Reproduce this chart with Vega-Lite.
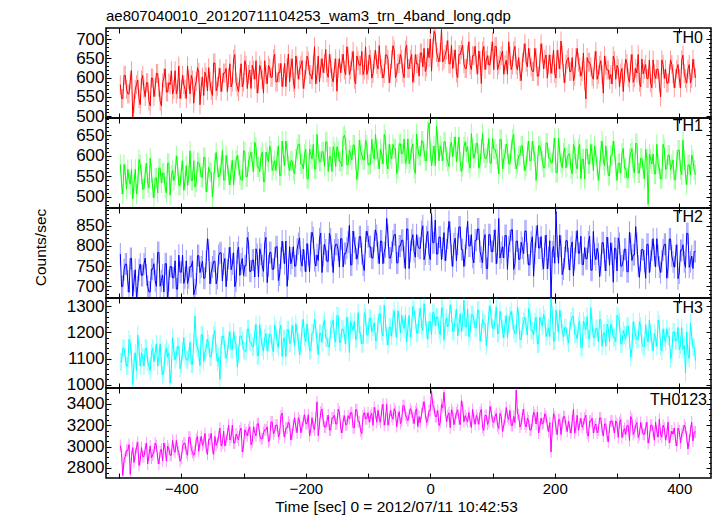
{
"$schema": "https://vega.github.io/schema/vega-lite/v6.json",
"padding": {"left": 32, "top": 9, "right": 5, "bottom": 1},
"title": {"text": "ae807040010_20120711104253_wam3_trn_4band_long.qdp", "anchor": "start", "frame": "group", "offset": -2.5, "fontSize": 15, "fontWeight": "normal", "font": "Liberation Sans", "color": "#000"},
"config": {
  "font": "Liberation Sans",
  "view": {"stroke": "#000", "strokeWidth": 1.5},
  "axis": {"labelFont": "Liberation Sans", "labelFontSize": 17, "labelColor": "#000", "tickColor": "#000", "tickWidth": 1, "domain": false, "grid": false, "titleFont": "Liberation Sans", "titleFontWeight": "normal", "titleFontSize": 15.5, "titleColor": "#000", "labelOverlap": false, "labelFlush": false}
},
"data": {"values": [
{"t":-498,"a":582,"b":579,"c":780,"d":1088,"e":3010},{"t":-494,"a":546,"b":507,"c":700,"d":1139,"e":2730},{"t":-490,"a":606,"b":555,"c":755,"d":1105,"e":2907},{"t":-486,"a":558,"b":567,"c":713,"d":1071,"e":2963},{"t":-482,"a":594,"b":531,"c":769,"d":1156,"e":2740},{"t":-478,"a":498,"b":495,"c":675,"d":1000,"e":2991},{"t":-474,"a":570,"b":567,"c":741,"d":1122,"e":2935},{"t":-470,"a":594,"b":531,"c":699,"d":1190,"e":3040},{"t":-466,"a":530,"b":579,"c":755,"d":1071,"e":2879},{"t":-462,"a":606,"b":519,"c":727,"d":1105,"e":2907},
{"t":-458,"a":551,"b":558,"c":770,"d":1139,"e":2978},{"t":-454,"a":587,"b":534,"c":700,"d":1088,"e":2838},{"t":-450,"a":527,"b":594,"c":686,"d":1054,"e":3006},{"t":-446,"a":599,"b":522,"c":742,"d":1139,"e":2922},{"t":-442,"a":575,"b":546,"c":714,"d":1122,"e":3034},{"t":-438,"a":611,"b":510,"c":784,"d":1071,"e":2894},{"t":-434,"a":539,"b":570,"c":700,"d":1156,"e":2950},{"t":-430,"a":587,"b":558,"c":728,"d":1037,"e":2866},{"t":-426,"a":623,"b":522,"c":756,"d":1122,"e":2978},{"t":-422,"a":563,"b":582,"c":658,"d":1105,"e":3006},
{"t":-418,"a":582,"b":504,"c":749,"d":1005,"e":2919},{"t":-414,"a":558,"b":564,"c":721,"d":1180,"e":3059},{"t":-410,"a":618,"b":552,"c":763,"d":1095,"e":2947},{"t":-406,"a":570,"b":576,"c":693,"d":1146,"e":2975},{"t":-402,"a":546,"b":528,"c":735,"d":1061,"e":2863},{"t":-398,"a":606,"b":588,"c":777,"d":1129,"e":3003},{"t":-394,"a":570,"b":540,"c":721,"d":1112,"e":3031},{"t":-390,"a":630,"b":528,"c":707,"d":1095,"e":2919},{"t":-386,"a":558,"b":612,"c":749,"d":1163,"e":3087},{"t":-382,"a":594,"b":540,"c":763,"d":1078,"e":2947},
{"t":-378,"a":578,"b":524,"c":692,"d":1262,"e":2956},{"t":-374,"a":626,"b":584,"c":776,"d":1140,"e":3096},{"t":-370,"a":530,"b":572,"c":734,"d":1072,"e":3040},{"t":-366,"a":602,"b":548,"c":762,"d":1191,"e":3012},{"t":-362,"a":614,"b":596,"c":720,"d":1123,"e":3124},{"t":-358,"a":566,"b":536,"c":818,"d":1174,"e":2928},{"t":-354,"a":590,"b":560,"c":706,"d":1106,"e":3068},{"t":-350,"a":554,"b":500,"c":748,"d":1157,"e":2984},{"t":-346,"a":638,"b":584,"c":762,"d":1208,"e":3096},{"t":-342,"a":578,"b":572,"c":720,"d":1089,"e":3040},
{"t":-338,"a":624,"b":553,"c":783,"d":1020,"e":3174},{"t":-334,"a":588,"b":613,"c":713,"d":1186,"e":3034},{"t":-330,"a":612,"b":541,"c":769,"d":1135,"e":3006},{"t":-326,"a":564,"b":577,"c":741,"d":1118,"e":3118},{"t":-322,"a":636,"b":529,"c":797,"d":1203,"e":3062},{"t":-318,"a":588,"b":589,"c":755,"d":1135,"e":3202},{"t":-314,"a":660,"b":565,"c":699,"d":1169,"e":3034},{"t":-310,"a":576,"b":601,"c":783,"d":1067,"e":3090},{"t":-306,"a":600,"b":553,"c":727,"d":1186,"e":3146},{"t":-302,"a":576,"b":541,"c":769,"d":1169,"e":2950},
{"t":-298,"a":644,"b":609,"c":751,"d":1128,"e":3158},{"t":-294,"a":572,"b":549,"c":821,"d":1213,"e":3102},{"t":-290,"a":620,"b":597,"c":737,"d":1162,"e":3186},{"t":-286,"a":632,"b":585,"c":765,"d":1145,"e":3046},{"t":-282,"a":596,"b":633,"c":723,"d":1196,"e":3130},{"t":-278,"a":560,"b":573,"c":779,"d":1111,"e":3214},{"t":-274,"a":632,"b":561,"c":793,"d":1230,"e":3102},{"t":-270,"a":596,"b":609,"c":751,"d":1145,"e":3074},{"t":-266,"a":644,"b":537,"c":807,"d":1179,"e":3158},{"t":-262,"a":584,"b":597,"c":709,"d":1128,"e":3186},
{"t":-258,"a":625,"b":624,"c":784,"d":1193,"e":3063},{"t":-254,"a":601,"b":564,"c":742,"d":1142,"e":3231},{"t":-250,"a":661,"b":588,"c":770,"d":1227,"e":3147},{"t":-246,"a":589,"b":600,"c":798,"d":1159,"e":3203},{"t":-242,"a":613,"b":552,"c":728,"d":1210,"e":3119},{"t":-238,"a":577,"b":636,"c":812,"d":1108,"e":3315},{"t":-234,"a":637,"b":576,"c":756,"d":1176,"e":3091},{"t":-230,"a":625,"b":612,"c":700,"d":1210,"e":3175},{"t":-226,"a":589,"b":564,"c":798,"d":1159,"e":3203},{"t":-222,"a":649,"b":588,"c":770,"d":1227,"e":3119},
{"t":-218,"a":572,"b":556,"c":750,"d":1148,"e":3271},{"t":-214,"a":632,"b":616,"c":792,"d":1199,"e":3131},{"t":-210,"a":620,"b":628,"c":820,"d":1114,"e":3243},{"t":-206,"a":644,"b":580,"c":750,"d":1216,"e":3187},{"t":-202,"a":596,"b":604,"c":764,"d":1182,"e":3299},{"t":-198,"a":656,"b":544,"c":806,"d":1233,"e":3215},{"t":-194,"a":608,"b":616,"c":736,"d":1131,"e":3103},{"t":-190,"a":596,"b":592,"c":834,"d":1199,"e":3271},{"t":-186,"a":680,"b":568,"c":764,"d":1250,"e":3159},{"t":-182,"a":608,"b":652,"c":778,"d":1165,"e":3420},
{"t":-178,"a":589,"b":586,"c":818,"d":1196,"e":3212},{"t":-174,"a":649,"b":610,"c":734,"d":1162,"e":3352},{"t":-170,"a":637,"b":574,"c":804,"d":1247,"e":3184},{"t":-166,"a":613,"b":634,"c":762,"d":1179,"e":3240},{"t":-162,"a":661,"b":598,"c":832,"d":1145,"e":3156},{"t":-158,"a":601,"b":562,"c":776,"d":1230,"e":3268},{"t":-154,"a":625,"b":610,"c":790,"d":1179,"e":3296},{"t":-150,"a":565,"b":622,"c":804,"d":1264,"e":3212},{"t":-146,"a":649,"b":586,"c":748,"d":1162,"e":3324},{"t":-142,"a":637,"b":574,"c":818,"d":1213,"e":3128},
{"t":-138,"a":620,"b":650,"c":781,"d":1191,"e":3290},{"t":-134,"a":680,"b":578,"c":795,"d":1259,"e":3206},{"t":-130,"a":608,"b":614,"c":851,"d":1123,"e":3262},{"t":-126,"a":644,"b":590,"c":753,"d":1225,"e":3318},{"t":-122,"a":596,"b":626,"c":809,"d":1242,"e":3178},{"t":-118,"a":656,"b":542,"c":767,"d":1174,"e":3346},{"t":-114,"a":632,"b":638,"c":823,"d":1208,"e":3234},{"t":-110,"a":668,"b":602,"c":781,"d":1157,"e":3122},{"t":-106,"a":620,"b":590,"c":739,"d":1276,"e":3318},{"t":-102,"a":608,"b":626,"c":837,"d":1191,"e":3262},
{"t":-98,"a":659,"b":580,"c":798,"d":1254,"e":3229},{"t":-94,"a":599,"b":640,"c":770,"d":1203,"e":3313},{"t":-90,"a":647,"b":592,"c":812,"d":1237,"e":3369},{"t":-86,"a":635,"b":616,"c":826,"d":1169,"e":3229},{"t":-82,"a":683,"b":568,"c":756,"d":1271,"e":3257},{"t":-78,"a":623,"b":604,"c":812,"d":1203,"e":3341},{"t":-74,"a":611,"b":652,"c":784,"d":1305,"e":3201},{"t":-70,"a":659,"b":580,"c":868,"d":1186,"e":3397},{"t":-66,"a":587,"b":628,"c":770,"d":1220,"e":3257},{"t":-62,"a":647,"b":592,"c":784,"d":1186,"e":3285},
{"t":-58,"a":672,"b":617,"c":828,"d":1283,"e":3356},{"t":-54,"a":612,"b":557,"c":758,"d":1181,"e":3188},{"t":-50,"a":636,"b":629,"c":800,"d":1249,"e":3328},{"t":-46,"a":648,"b":605,"c":814,"d":1266,"e":3244},{"t":-42,"a":600,"b":641,"c":772,"d":1215,"e":3384},{"t":-38,"a":684,"b":593,"c":842,"d":1164,"e":3272},{"t":-34,"a":624,"b":581,"c":744,"d":1266,"e":3300},{"t":-30,"a":660,"b":617,"c":814,"d":1215,"e":3328},{"t":-26,"a":612,"b":569,"c":786,"d":1283,"e":3216},{"t":-22,"a":636,"b":653,"c":828,"d":1198,"e":3356},
{"t":-18,"a":604,"b":600,"c":794,"d":1259,"e":3282},{"t":-14,"a":664,"b":636,"c":836,"d":1225,"e":3310},{"t":-10,"a":676,"b":612,"c":766,"d":1310,"e":3422},{"t":-6,"a":628,"b":588,"c":822,"d":1208,"e":3226},{"t":-2,"a":652,"b":680,"c":780,"d":1242,"e":3338},{"t":2,"a":617,"b":576,"c":880,"d":1191,"e":3520},{"t":6,"a":720,"b":624,"c":808,"d":1276,"e":3366},{"t":10,"a":665,"b":672,"c":780,"d":1259,"e":3282},{"t":14,"a":641,"b":588,"c":822,"d":1208,"e":3198},{"t":18,"a":725,"b":612,"c":766,"d":1293,"e":3394},
{"t":22,"a":648,"b":634,"c":833,"d":1170,"e":3510},{"t":26,"a":672,"b":598,"c":791,"d":1255,"e":3234},{"t":30,"a":636,"b":574,"c":861,"d":1238,"e":3318},{"t":34,"a":684,"b":634,"c":777,"d":1272,"e":3346},{"t":38,"a":648,"b":622,"c":805,"d":1204,"e":3206},{"t":42,"a":612,"b":586,"c":763,"d":1289,"e":3318},{"t":46,"a":660,"b":646,"c":847,"d":1221,"e":3262},{"t":50,"a":672,"b":562,"c":791,"d":1204,"e":3430},{"t":54,"a":636,"b":622,"c":749,"d":1323,"e":3234},{"t":58,"a":624,"b":610,"c":819,"d":1221,"e":3262},
{"t":62,"a":693,"b":582,"c":800,"d":1183,"e":3321},{"t":66,"a":621,"b":654,"c":828,"d":1268,"e":3181},{"t":70,"a":657,"b":594,"c":758,"d":1251,"e":3265},{"t":74,"a":633,"b":630,"c":814,"d":1217,"e":3293},{"t":78,"a":669,"b":570,"c":842,"d":1285,"e":3209},{"t":82,"a":585,"b":618,"c":772,"d":1200,"e":3349},{"t":86,"a":681,"b":606,"c":814,"d":1234,"e":3153},{"t":90,"a":645,"b":594,"c":744,"d":1149,"e":3293},{"t":94,"a":633,"b":642,"c":828,"d":1268,"e":3237},{"t":98,"a":669,"b":582,"c":786,"d":1251,"e":3321},
{"t":102,"a":621,"b":616,"c":812,"d":1213,"e":3227},{"t":106,"a":681,"b":604,"c":756,"d":1298,"e":3311},{"t":110,"a":633,"b":556,"c":868,"d":1196,"e":3171},{"t":114,"a":657,"b":640,"c":784,"d":1247,"e":3283},{"t":118,"a":609,"b":592,"c":770,"d":1179,"e":3199},{"t":122,"a":645,"b":628,"c":826,"d":1264,"e":3367},{"t":126,"a":693,"b":580,"c":798,"d":1230,"e":3255},{"t":130,"a":621,"b":616,"c":840,"d":1281,"e":3199},{"t":134,"a":669,"b":652,"c":742,"d":1213,"e":3283},{"t":138,"a":633,"b":568,"c":812,"d":1196,"e":3530},
{"t":142,"a":652,"b":600,"c":767,"d":1258,"e":3296},{"t":146,"a":592,"b":624,"c":809,"d":1173,"e":3212},{"t":150,"a":664,"b":588,"c":781,"d":1241,"e":3352},{"t":154,"a":640,"b":576,"c":837,"d":1224,"e":3184},{"t":158,"a":676,"b":636,"c":753,"d":1292,"e":3240},{"t":162,"a":628,"b":588,"c":809,"d":1207,"e":3156},{"t":166,"a":616,"b":612,"c":725,"d":1190,"e":3324},{"t":170,"a":652,"b":540,"c":823,"d":1258,"e":3212},{"t":174,"a":604,"b":624,"c":795,"d":1156,"e":3128},{"t":178,"a":688,"b":612,"c":823,"d":1241,"e":3268},
{"t":182,"a":623,"b":571,"c":743,"d":1269,"e":3225},{"t":186,"a":659,"b":631,"c":827,"d":1184,"e":3281},{"t":190,"a":635,"b":595,"c":771,"d":1218,"e":3141},{"t":194,"a":611,"b":583,"c":665,"d":1330,"e":2950},{"t":198,"a":671,"b":619,"c":799,"d":1167,"e":3309},{"t":202,"a":599,"b":559,"c":885,"d":1286,"e":3169},{"t":206,"a":647,"b":643,"c":757,"d":1201,"e":3253},{"t":210,"a":695,"b":583,"c":799,"d":1252,"e":3113},{"t":214,"a":611,"b":607,"c":743,"d":1184,"e":3281},{"t":218,"a":635,"b":571,"c":813,"d":1218,"e":3197},
{"t":222,"a":652,"b":604,"c":768,"d":1159,"e":3238},{"t":226,"a":616,"b":568,"c":796,"d":1244,"e":3126},{"t":230,"a":592,"b":628,"c":726,"d":1261,"e":3350},{"t":234,"a":652,"b":580,"c":810,"d":1193,"e":3182},{"t":238,"a":640,"b":616,"c":782,"d":1227,"e":3154},{"t":242,"a":604,"b":544,"c":824,"d":1142,"e":3266},{"t":246,"a":664,"b":592,"c":754,"d":1244,"e":3210},{"t":250,"a":545,"b":616,"c":768,"d":1210,"e":3294},{"t":254,"a":640,"b":580,"c":810,"d":1176,"e":3098},{"t":258,"a":628,"b":628,"c":740,"d":1295,"e":3238},
{"t":262,"a":596,"b":564,"c":836,"d":1181,"e":3129},{"t":266,"a":668,"b":600,"c":766,"d":1215,"e":3213},{"t":270,"a":608,"b":540,"c":780,"d":1164,"e":3157},{"t":274,"a":644,"b":612,"c":752,"d":1249,"e":3269},{"t":278,"a":560,"b":588,"c":808,"d":1198,"e":3101},{"t":282,"a":632,"b":624,"c":738,"d":1147,"e":3213},{"t":286,"a":620,"b":552,"c":794,"d":1215,"e":3045},{"t":290,"a":608,"b":600,"c":808,"d":1232,"e":3241},{"t":294,"a":656,"b":636,"c":710,"d":1181,"e":3185},{"t":298,"a":596,"b":576,"c":794,"d":1164,"e":3241},
{"t":302,"a":624,"b":582,"c":820,"d":1258,"e":3086},{"t":306,"a":612,"b":558,"c":750,"d":1156,"e":3254},{"t":310,"a":564,"b":618,"c":764,"d":1207,"e":3142},{"t":314,"a":648,"b":570,"c":792,"d":1173,"e":3114},{"t":318,"a":600,"b":546,"c":736,"d":1224,"e":3198},{"t":322,"a":636,"b":606,"c":806,"d":1105,"e":3282},{"t":326,"a":588,"b":570,"c":778,"d":1241,"e":3114},{"t":330,"a":624,"b":630,"c":848,"d":1190,"e":3198},{"t":334,"a":660,"b":558,"c":750,"d":1173,"e":3086},{"t":338,"a":576,"b":594,"c":764,"d":1224,"e":3226},
{"t":342,"a":610,"b":568,"c":790,"d":1146,"e":3117},{"t":346,"a":634,"b":616,"c":720,"d":1231,"e":3173},{"t":350,"a":598,"b":482,"c":804,"d":1163,"e":3033},{"t":354,"a":586,"b":592,"c":762,"d":1197,"e":3201},{"t":358,"a":646,"b":604,"c":818,"d":1129,"e":3145},{"t":362,"a":598,"b":556,"c":748,"d":1180,"e":3229},{"t":366,"a":622,"b":580,"c":776,"d":1248,"e":3089},{"t":370,"a":550,"b":544,"c":734,"d":1146,"e":3117},{"t":374,"a":634,"b":628,"c":790,"d":1214,"e":3201},{"t":378,"a":622,"b":568,"c":804,"d":1163,"e":3061},
{"t":382,"a":586,"b":602,"c":747,"d":1185,"e":3230},{"t":386,"a":646,"b":566,"c":817,"d":1100,"e":3090},{"t":390,"a":610,"b":590,"c":761,"d":1202,"e":3118},{"t":394,"a":598,"b":542,"c":775,"d":1168,"e":3062},{"t":398,"a":634,"b":614,"c":719,"d":1219,"e":3174},{"t":402,"a":574,"b":566,"c":789,"d":1151,"e":3034},{"t":406,"a":658,"b":638,"c":803,"d":1134,"e":3146},{"t":410,"a":598,"b":554,"c":747,"d":1045,"e":3174},{"t":414,"a":622,"b":578,"c":831,"d":1117,"e":2978},{"t":418,"a":586,"b":554,"c":761,"d":1236,"e":3146},
{"t":422,"a":648,"b":590,"c":744,"d":1143,"e":3054},{"t":426,"a":600,"b":554,"c":786,"d":1092,"e":3138},
{"t":-496,"a":546,"b":531,"c":699,"d":1088,"e":2935},{"t":-492,"a":606,"b":579,"c":741,"d":1139,"e":2879},{"t":-488,"a":570,"b":519,"c":755,"d":1071,"e":2963},{"t":-484,"a":558,"b":543,"c":685,"d":1173,"e":3019},{"t":-480,"a":618,"b":567,"c":769,"d":1105,"e":2907},{"t":-476,"a":534,"b":531,"c":713,"d":1088,"e":2851},{"t":-472,"a":582,"b":507,"c":671,"d":1054,"e":2991},{"t":-468,"a":546,"b":591,"c":741,"d":1139,"e":2823},{"t":-464,"a":594,"b":555,"c":727,"d":1122,"e":2991},{"t":-460,"a":570,"b":519,"c":755,"d":1071,"e":2907},
{"t":-456,"a":587,"b":582,"c":728,"d":1139,"e":3034},{"t":-452,"a":539,"b":522,"c":686,"d":1071,"e":2922},{"t":-448,"a":599,"b":558,"c":742,"d":1122,"e":2894},{"t":-444,"a":551,"b":498,"c":756,"d":1088,"e":2950},{"t":-440,"a":611,"b":546,"c":700,"d":1156,"e":3006},{"t":-436,"a":575,"b":570,"c":784,"d":1105,"e":2838},{"t":-432,"a":527,"b":534,"c":714,"d":1071,"e":2978},{"t":-428,"a":599,"b":558,"c":686,"d":1054,"e":3034},{"t":-424,"a":563,"b":510,"c":756,"d":1139,"e":2866},{"t":-420,"a":587,"b":582,"c":714,"d":1122,"e":2978},
{"t":-416,"a":618,"b":552,"c":749,"d":1061,"e":2919},{"t":-412,"a":570,"b":540,"c":721,"d":1129,"e":2975},{"t":-408,"a":558,"b":600,"c":693,"d":1112,"e":3059},{"t":-404,"a":630,"b":528,"c":777,"d":1146,"e":2947},{"t":-400,"a":570,"b":564,"c":735,"d":1078,"e":2891},{"t":-396,"a":582,"b":516,"c":707,"d":1180,"e":3031},{"t":-392,"a":546,"b":576,"c":763,"d":1095,"e":2947},{"t":-388,"a":594,"b":552,"c":721,"d":1112,"e":3087},{"t":-384,"a":606,"b":540,"c":749,"d":1078,"e":2975},{"t":-380,"a":534,"b":588,"c":679,"d":1163,"e":2919},
{"t":-376,"a":590,"b":536,"c":706,"d":1157,"e":3068},{"t":-372,"a":614,"b":584,"c":776,"d":1123,"e":2956},{"t":-368,"a":578,"b":548,"c":748,"d":1191,"e":3096},{"t":-364,"a":554,"b":596,"c":720,"d":1089,"e":3040},{"t":-360,"a":602,"b":512,"c":762,"d":1140,"e":2984},{"t":-356,"a":626,"b":572,"c":790,"d":1157,"e":3068},{"t":-352,"a":566,"b":560,"c":734,"d":1106,"e":3124},{"t":-348,"a":638,"b":536,"c":762,"d":1191,"e":2928},{"t":-344,"a":566,"b":608,"c":706,"d":1123,"e":3012},{"t":-340,"a":602,"b":548,"c":776,"d":1106,"e":3096},
{"t":-336,"a":564,"b":577,"c":783,"d":1152,"e":3006},{"t":-332,"a":612,"b":541,"c":755,"d":1186,"e":3146},{"t":-328,"a":624,"b":601,"c":699,"d":1101,"e":3062},{"t":-324,"a":600,"b":553,"c":769,"d":1169,"e":3202},{"t":-320,"a":576,"b":565,"c":741,"d":1135,"e":3090},{"t":-316,"a":648,"b":529,"c":783,"d":1203,"e":3034},{"t":-312,"a":588,"b":589,"c":713,"d":1152,"e":3118},{"t":-308,"a":564,"b":577,"c":797,"d":1118,"e":3062},{"t":-304,"a":636,"b":541,"c":755,"d":1186,"e":3174},{"t":-300,"a":588,"b":613,"c":727,"d":1135,"e":3006},
{"t":-296,"a":632,"b":549,"c":751,"d":1128,"e":3130},{"t":-292,"a":608,"b":585,"c":807,"d":1213,"e":3158},{"t":-288,"a":572,"b":609,"c":737,"d":1162,"e":3018},{"t":-284,"a":620,"b":561,"c":765,"d":1145,"e":3186},{"t":-280,"a":644,"b":621,"c":793,"d":1230,"e":3102},{"t":-276,"a":584,"b":573,"c":723,"d":1111,"e":3214},{"t":-272,"a":620,"b":597,"c":779,"d":1179,"e":3074},{"t":-268,"a":560,"b":537,"c":737,"d":1128,"e":3130},{"t":-264,"a":608,"b":609,"c":821,"d":1196,"e":3158},{"t":-260,"a":632,"b":585,"c":751,"d":1162,"e":3046},
{"t":-256,"a":601,"b":612,"c":784,"d":1193,"e":3231},{"t":-252,"a":649,"b":576,"c":742,"d":1125,"e":3119},{"t":-248,"a":589,"b":564,"c":798,"d":1210,"e":3203},{"t":-244,"a":613,"b":624,"c":714,"d":1142,"e":3091},{"t":-240,"a":637,"b":552,"c":770,"d":1227,"e":3287},{"t":-236,"a":601,"b":600,"c":784,"d":1176,"e":3147},{"t":-232,"a":577,"b":636,"c":812,"d":1108,"e":3175},{"t":-228,"a":661,"b":576,"c":742,"d":1210,"e":3231},{"t":-224,"a":625,"b":588,"c":756,"d":1159,"e":3063},{"t":-220,"a":589,"b":564,"c":798,"d":1193,"e":3203},
{"t":-216,"a":656,"b":592,"c":750,"d":1233,"e":3187},{"t":-212,"a":596,"b":628,"c":806,"d":1165,"e":3271},{"t":-208,"a":632,"b":580,"c":764,"d":1148,"e":3131},{"t":-204,"a":572,"b":568,"c":792,"d":1250,"e":3243},{"t":-200,"a":620,"b":616,"c":736,"d":1165,"e":3215},{"t":-196,"a":644,"b":544,"c":778,"d":1182,"e":3299},{"t":-192,"a":608,"b":604,"c":806,"d":1131,"e":3159},{"t":-188,"a":632,"b":628,"c":820,"d":1199,"e":3187},{"t":-184,"a":584,"b":568,"c":750,"d":1216,"e":3271},{"t":-180,"a":656,"b":604,"c":764,"d":1114,"e":3103},
{"t":-176,"a":625,"b":586,"c":832,"d":1196,"e":3324},{"t":-172,"a":613,"b":610,"c":776,"d":1230,"e":3240},{"t":-168,"a":673,"b":634,"c":790,"d":1179,"e":3184},{"t":-164,"a":601,"b":562,"c":762,"d":1145,"e":3296},{"t":-160,"a":637,"b":598,"c":818,"d":1213,"e":3156},{"t":-156,"a":589,"b":622,"c":734,"d":1247,"e":3268},{"t":-152,"a":649,"b":574,"c":804,"d":1162,"e":3212},{"t":-148,"a":625,"b":610,"c":790,"d":1264,"e":3352},{"t":-144,"a":613,"b":586,"c":818,"d":1162,"e":3184},{"t":-140,"a":661,"b":646,"c":748,"d":1213,"e":3240},
{"t":-136,"a":608,"b":638,"c":781,"d":1157,"e":3206},{"t":-132,"a":656,"b":578,"c":809,"d":1225,"e":3290},{"t":-128,"a":620,"b":602,"c":753,"d":1242,"e":3318},{"t":-124,"a":668,"b":626,"c":837,"d":1208,"e":3178},{"t":-120,"a":584,"b":590,"c":795,"d":1174,"e":3346},{"t":-116,"a":644,"b":566,"c":781,"d":1276,"e":3234},{"t":-112,"a":632,"b":614,"c":823,"d":1191,"e":3150},{"t":-108,"a":608,"b":590,"c":753,"d":1157,"e":3290},{"t":-104,"a":680,"b":638,"c":809,"d":1259,"e":3262},{"t":-100,"a":620,"b":578,"c":823,"d":1191,"e":3318},
{"t":-96,"a":647,"b":580,"c":798,"d":1254,"e":3285},{"t":-92,"a":611,"b":604,"c":770,"d":1220,"e":3201},{"t":-88,"a":671,"b":652,"c":840,"d":1169,"e":3313},{"t":-84,"a":623,"b":592,"c":784,"d":1237,"e":3341},{"t":-80,"a":635,"b":616,"c":812,"d":1271,"e":3229},{"t":-76,"a":599,"b":580,"c":756,"d":1186,"e":3397},{"t":-72,"a":659,"b":640,"c":798,"d":1237,"e":3257},{"t":-68,"a":647,"b":568,"c":826,"d":1152,"e":3201},{"t":-64,"a":611,"b":604,"c":770,"d":1220,"e":3341},{"t":-60,"a":683,"b":628,"c":812,"d":1254,"e":3257},
{"t":-56,"a":600,"b":617,"c":828,"d":1215,"e":3328},{"t":-52,"a":636,"b":569,"c":758,"d":1283,"e":3272},{"t":-48,"a":660,"b":629,"c":800,"d":1198,"e":3216},{"t":-44,"a":612,"b":605,"c":814,"d":1232,"e":3384},{"t":-40,"a":672,"b":581,"c":744,"d":1266,"e":3300},{"t":-36,"a":624,"b":641,"c":842,"d":1215,"e":3244},{"t":-32,"a":648,"b":593,"c":786,"d":1181,"e":3356},{"t":-28,"a":588,"b":629,"c":828,"d":1300,"e":3272},{"t":-24,"a":660,"b":557,"c":772,"d":1249,"e":3328},{"t":-20,"a":636,"b":617,"c":800,"d":1198,"e":3188},
{"t":-16,"a":664,"b":600,"c":794,"d":1293,"e":3226},{"t":-12,"a":628,"b":636,"c":850,"d":1208,"e":3366},{"t":-8,"a":616,"b":588,"c":780,"d":1259,"e":3310},{"t":-4,"a":676,"b":660,"c":836,"d":1174,"e":3254},{"t":0,"a":700,"b":612,"c":766,"d":1242,"e":3338},{"t":4,"a":677,"b":600,"c":808,"d":1276,"e":3394},{"t":8,"a":713,"b":576,"c":864,"d":1225,"e":3282},{"t":12,"a":653,"b":636,"c":780,"d":1259,"e":3338},{"t":16,"a":665,"b":624,"c":822,"d":1191,"e":3226},{"t":20,"a":641,"b":588,"c":794,"d":1293,"e":3366},
{"t":24,"a":660,"b":634,"c":763,"d":1238,"e":3346},{"t":28,"a":696,"b":586,"c":819,"d":1221,"e":3290},{"t":32,"a":636,"b":622,"c":833,"d":1306,"e":3178},{"t":36,"a":624,"b":598,"c":749,"d":1204,"e":3318},{"t":40,"a":672,"b":646,"c":819,"d":1255,"e":3262},{"t":44,"a":600,"b":610,"c":805,"d":1187,"e":3346},{"t":48,"a":660,"b":586,"c":847,"d":1272,"e":3206},{"t":52,"a":684,"b":574,"c":791,"d":1238,"e":3374},{"t":56,"a":624,"b":634,"c":777,"d":1221,"e":3290},{"t":60,"a":660,"b":622,"c":861,"d":1289,"e":3234},
{"t":64,"a":633,"b":570,"c":800,"d":1200,"e":3237},{"t":68,"a":657,"b":618,"c":772,"d":1268,"e":3349},{"t":72,"a":681,"b":606,"c":814,"d":1217,"e":3209},{"t":76,"a":609,"b":630,"c":842,"d":1285,"e":3265},{"t":80,"a":645,"b":582,"c":786,"d":1166,"e":3321},{"t":84,"a":669,"b":654,"c":758,"d":1251,"e":3181},{"t":88,"a":621,"b":594,"c":828,"d":1234,"e":3293},{"t":92,"a":657,"b":606,"c":744,"d":1200,"e":3209},{"t":96,"a":633,"b":582,"c":828,"d":1302,"e":3377},{"t":100,"a":693,"b":642,"c":786,"d":1217,"e":3237},
{"t":104,"a":681,"b":616,"c":840,"d":1247,"e":3283},{"t":108,"a":621,"b":592,"c":784,"d":1196,"e":3199},{"t":112,"a":645,"b":640,"c":770,"d":1281,"e":3311},{"t":116,"a":669,"b":568,"c":798,"d":1213,"e":3143},{"t":120,"a":633,"b":604,"c":826,"d":1230,"e":3255},{"t":124,"a":609,"b":616,"c":742,"d":1179,"e":3283},{"t":128,"a":657,"b":580,"c":812,"d":1264,"e":3339},{"t":132,"a":633,"b":640,"c":840,"d":1247,"e":3199},{"t":136,"a":681,"b":592,"c":756,"d":1196,"e":3227},{"t":140,"a":621,"b":580,"c":812,"d":1298,"e":3311},
{"t":144,"a":616,"b":600,"c":767,"d":1173,"e":3184},{"t":148,"a":640,"b":624,"c":795,"d":1224,"e":3296},{"t":152,"a":688,"b":564,"c":837,"d":1258,"e":3212},{"t":156,"a":628,"b":612,"c":781,"d":1190,"e":3268},{"t":160,"a":652,"b":588,"c":753,"d":1275,"e":3156},{"t":164,"a":616,"b":636,"c":823,"d":1207,"e":3240},{"t":168,"a":676,"b":600,"c":781,"d":1241,"e":3296},{"t":172,"a":604,"b":576,"c":851,"d":1156,"e":3324},{"t":176,"a":640,"b":624,"c":795,"d":1258,"e":3184},{"t":180,"a":664,"b":588,"c":767,"d":1224,"e":3212},
{"t":184,"a":647,"b":571,"c":799,"d":1252,"e":3309},{"t":188,"a":599,"b":631,"c":743,"d":1201,"e":3197},{"t":192,"a":659,"b":595,"c":813,"d":1184,"e":3225},{"t":196,"a":635,"b":583,"c":785,"d":1269,"e":3169},{"t":200,"a":611,"b":643,"c":757,"d":1167,"e":3281},{"t":204,"a":671,"b":559,"c":799,"d":1235,"e":3113},{"t":208,"a":623,"b":607,"c":827,"d":1286,"e":3253},{"t":212,"a":659,"b":571,"c":729,"d":1201,"e":3225},{"t":216,"a":587,"b":619,"c":771,"d":1218,"e":3281},{"t":220,"a":647,"b":595,"c":813,"d":1184,"e":3141},
{"t":224,"a":616,"b":604,"c":740,"d":1210,"e":3182},{"t":228,"a":652,"b":556,"c":810,"d":1261,"e":3238},{"t":232,"a":604,"b":616,"c":768,"d":1193,"e":3126},{"t":236,"a":676,"b":568,"c":838,"d":1176,"e":3294},{"t":240,"a":628,"b":628,"c":782,"d":1244,"e":3210},{"t":244,"a":616,"b":592,"c":754,"d":1142,"e":3182},{"t":248,"a":592,"b":544,"c":796,"d":1227,"e":3266},{"t":252,"a":652,"b":616,"c":768,"d":1261,"e":3126},{"t":256,"a":640,"b":580,"c":824,"d":1176,"e":3238},{"t":260,"a":604,"b":604,"c":740,"d":1227,"e":3266},
{"t":264,"a":644,"b":624,"c":780,"d":1181,"e":3185},{"t":268,"a":596,"b":576,"c":794,"d":1215,"e":3129},{"t":272,"a":632,"b":564,"c":724,"d":1249,"e":3269},{"t":276,"a":608,"b":636,"c":808,"d":1147,"e":3157},{"t":280,"a":656,"b":576,"c":766,"d":1198,"e":3213},{"t":284,"a":620,"b":588,"c":822,"d":1232,"e":3101},{"t":288,"a":596,"b":552,"c":752,"d":1164,"e":3185},{"t":292,"a":584,"b":600,"c":780,"d":1215,"e":3241},{"t":296,"a":644,"b":612,"c":794,"d":1181,"e":3129},{"t":300,"a":632,"b":540,"c":738,"d":1266,"e":3213},
{"t":304,"a":576,"b":582,"c":806,"d":1241,"e":3226},{"t":308,"a":624,"b":606,"c":750,"d":1156,"e":3086},{"t":312,"a":612,"b":570,"c":792,"d":1190,"e":3170},{"t":316,"a":636,"b":546,"c":736,"d":1224,"e":3198},{"t":320,"a":588,"b":594,"c":834,"d":1173,"e":3058},{"t":324,"a":660,"b":618,"c":764,"d":1139,"e":3254},{"t":328,"a":600,"b":558,"c":778,"d":1207,"e":3142},{"t":332,"a":612,"b":630,"c":806,"d":1173,"e":3226},{"t":336,"a":588,"b":558,"c":722,"d":1241,"e":3114},{"t":340,"a":648,"b":594,"c":792,"d":1156,"e":3170},
{"t":344,"a":622,"b":544,"c":762,"d":1146,"e":3117},{"t":348,"a":598,"b":592,"c":804,"d":1180,"e":3229},{"t":352,"a":646,"b":604,"c":734,"d":1248,"e":3089},{"t":356,"a":574,"b":580,"c":790,"d":1163,"e":3201},{"t":360,"a":610,"b":556,"c":776,"d":1197,"e":3061},{"t":364,"a":622,"b":628,"c":818,"d":1146,"e":3145},{"t":368,"a":586,"b":568,"c":748,"d":1231,"e":3257},{"t":372,"a":646,"b":544,"c":762,"d":1129,"e":3089},{"t":376,"a":598,"b":616,"c":804,"d":1180,"e":3173},{"t":380,"a":586,"b":568,"c":720,"d":1214,"e":3117},
{"t":384,"a":610,"b":602,"c":817,"d":1185,"e":3034},{"t":388,"a":634,"b":578,"c":775,"d":1117,"e":3146},{"t":392,"a":574,"b":542,"c":747,"d":1202,"e":3174},{"t":396,"a":622,"b":590,"c":803,"d":1168,"e":3006},{"t":400,"a":598,"b":614,"c":733,"d":1134,"e":3146},{"t":404,"a":646,"b":554,"c":789,"d":1219,"e":3118},{"t":408,"a":610,"b":590,"c":761,"d":1151,"e":3202},{"t":412,"a":586,"b":530,"c":831,"d":1202,"e":3090},{"t":416,"a":634,"b":578,"c":747,"d":1100,"e":3062},{"t":420,"a":598,"b":602,"c":775,"d":1185,"e":3230},
{"t":424,"a":624,"b":566,"c":786,"d":1143,"e":3138}
]},
"vconcat": [
{
 "width": 605, "height": 90,
 "title": {"text": "TH0", "anchor": "end", "frame": "group", "orient": "top", "offset": -24, "dx": -8, "fontSize": 16, "fontWeight": "normal", "color": "#000"},
 "layer": [
  {"mark": {"type": "tick", "orient": "vertical", "size": 19, "thickness": 1, "color": "#ff0000", "opacity": 0.4, "clip": true},
   "encoding": {
    "x": {"field": "t", "type": "quantitative", "scale": {"domain": [-521, 451], "nice": false, "zero": false},
          "axis": {"orient": "bottom", "values": [-500,-400,-300,-200,-100,0,100,200,300,400], "labels": false, "title": null, "tickSize": -5}},
    "y": {"field": "a", "type": "quantitative", "scale": {"domain": [495.6, 728.7], "nice": false, "zero": false},
          "axis": {"orient": "left", "values": [500,510,520,530,540,550,560,570,580,590,600,610,620,630,640,650,660,670,680,690,700,710,720], "labelExpr": "datum.value % 50 === 0 ? datum.label : ''", "tickSize": {"condition": {"test": "datum.value % 50 === 0", "value": -5}, "value": -2.5}, "labelPadding": 7, "title": null}}}},
  {"mark": {"type": "line", "color": "#ff0000", "strokeWidth": 1, "clip": true},
   "encoding": {
    "x": {"field": "t", "type": "quantitative", "axis": {"orient": "top", "values": [-500,-400,-300,-200,-100,0,100,200,300,400], "labels": false, "title": null, "tickSize": -5}},
    "y": {"field": "a", "type": "quantitative", "axis": {"orient": "right", "values": [500,510,520,530,540,550,560,570,580,590,600,610,620,630,640,650,660,670,680,690,700,710,720], "labels": false, "title": null, "tickSize": {"condition": {"test": "datum.value % 50 === 0", "value": -5}, "value": -2.5}}}}}
 ],
 "resolve": {"axis": {"x": "independent", "y": "independent"}}
},
{
 "width": 605, "height": 90,
 "title": {"text": "TH1", "anchor": "end", "frame": "group", "orient": "top", "offset": -24, "dx": -8, "fontSize": 16, "fontWeight": "normal", "color": "#000"},
 "layer": [
  {"mark": {"type": "tick", "orient": "vertical", "size": 20, "thickness": 1, "color": "#00ff00", "opacity": 0.4, "clip": true},
   "encoding": {
    "x": {"field": "t", "type": "quantitative", "scale": {"domain": [-521, 451], "nice": false, "zero": false},
          "axis": {"orient": "bottom", "values": [-500,-400,-300,-200,-100,0,100,200,300,400], "labels": false, "title": null, "tickSize": -5}},
    "y": {"field": "b", "type": "quantitative", "scale": {"domain": [473, 692], "nice": false, "zero": false},
          "axis": {"orient": "left", "values": [480,490,500,510,520,530,540,550,560,570,580,590,600,610,620,630,640,650,660,670,680,690], "labelExpr": "datum.value % 50 === 0 ? datum.label : ''", "tickSize": {"condition": {"test": "datum.value % 50 === 0", "value": -5}, "value": -2.5}, "labelPadding": 7, "title": null}}}},
  {"mark": {"type": "line", "color": "#00ff00", "strokeWidth": 1, "clip": true},
   "encoding": {
    "x": {"field": "t", "type": "quantitative", "axis": {"orient": "top", "values": [-500,-400,-300,-200,-100,0,100,200,300,400], "labels": false, "title": null, "tickSize": -5}},
    "y": {"field": "b", "type": "quantitative", "axis": {"orient": "right", "values": [480,490,500,510,520,530,540,550,560,570,580,590,600,610,620,630,640,650,660,670,680,690], "labels": false, "title": null, "tickSize": {"condition": {"test": "datum.value % 50 === 0", "value": -5}, "value": -2.5}}}}}
 ],
 "resolve": {"axis": {"x": "independent", "y": "independent"}}
},
{
 "width": 605, "height": 90,
 "title": {"text": "TH2", "anchor": "end", "frame": "group", "orient": "top", "offset": -24, "dx": -8, "fontSize": 16, "fontWeight": "normal", "color": "#000"},
 "layer": [
  {"mark": {"type": "tick", "orient": "vertical", "size": 22, "thickness": 1, "color": "#0000ff", "opacity": 0.4, "clip": true},
   "encoding": {
    "x": {"field": "t", "type": "quantitative", "scale": {"domain": [-521, 451], "nice": false, "zero": false},
          "axis": {"orient": "bottom", "values": [-500,-400,-300,-200,-100,0,100,200,300,400], "labels": false, "title": null, "tickSize": -5}},
    "y": {"field": "c", "type": "quantitative", "scale": {"domain": [671, 894], "nice": false, "zero": false},
          "axis": {"orient": "left", "values": [680,690,700,710,720,730,740,750,760,770,780,790,800,810,820,830,840,850,860,870,880,890], "labelExpr": "datum.value % 50 === 0 ? datum.label : ''", "tickSize": {"condition": {"test": "datum.value % 50 === 0", "value": -5}, "value": -2.5}, "labelPadding": 7, "title": "Counts/sec", "titlePadding": 27, "titleY": 39}}}},
  {"mark": {"type": "line", "color": "#0000ff", "strokeWidth": 1, "clip": true},
   "encoding": {
    "x": {"field": "t", "type": "quantitative", "axis": {"orient": "top", "values": [-500,-400,-300,-200,-100,0,100,200,300,400], "labels": false, "title": null, "tickSize": -5}},
    "y": {"field": "c", "type": "quantitative", "axis": {"orient": "right", "values": [680,690,700,710,720,730,740,750,760,770,780,790,800,810,820,830,840,850,860,870,880,890], "labels": false, "title": null, "tickSize": {"condition": {"test": "datum.value % 50 === 0", "value": -5}, "value": -2.5}}}}}
 ],
 "resolve": {"axis": {"x": "independent", "y": "independent"}}
},
{
 "width": 605, "height": 90,
 "title": {"text": "TH3", "anchor": "end", "frame": "group", "orient": "top", "offset": -24, "dx": -8, "fontSize": 16, "fontWeight": "normal", "color": "#000"},
 "layer": [
  {"mark": {"type": "tick", "orient": "vertical", "size": 18, "thickness": 1, "color": "#00ffff", "opacity": 0.45, "clip": true},
   "encoding": {
    "x": {"field": "t", "type": "quantitative", "scale": {"domain": [-521, 451], "nice": false, "zero": false},
          "axis": {"orient": "bottom", "values": [-500,-400,-300,-200,-100,0,100,200,300,400], "labels": false, "title": null, "tickSize": -5}},
    "y": {"field": "d", "type": "quantitative", "scale": {"domain": [987, 1332], "nice": false, "zero": false},
          "axis": {"orient": "left", "values": [1000,1020,1040,1060,1080,1100,1120,1140,1160,1180,1200,1220,1240,1260,1280,1300,1320], "labelExpr": "datum.value % 100 === 0 ? datum.label : ''", "tickSize": {"condition": {"test": "datum.value % 100 === 0", "value": -5}, "value": -2.5}, "labelPadding": 7, "title": null, "format": "d"}}}},
  {"mark": {"type": "line", "color": "#00ffff", "strokeWidth": 1, "clip": true},
   "encoding": {
    "x": {"field": "t", "type": "quantitative", "axis": {"orient": "top", "values": [-500,-400,-300,-200,-100,0,100,200,300,400], "labels": false, "title": null, "tickSize": -5}},
    "y": {"field": "d", "type": "quantitative", "axis": {"orient": "right", "values": [1000,1020,1040,1060,1080,1100,1120,1140,1160,1180,1200,1220,1240,1260,1280,1300,1320], "labels": false, "title": null, "tickSize": {"condition": {"test": "datum.value % 100 === 0", "value": -5}, "value": -2.5}}}}}
 ],
 "resolve": {"axis": {"x": "independent", "y": "independent"}}
},
{
 "width": 605, "height": 90,
 "title": {"text": "TH0123", "anchor": "end", "frame": "group", "orient": "top", "offset": -24, "dx": -4, "fontSize": 16, "fontWeight": "normal", "color": "#000"},
 "layer": [
  {"mark": {"type": "tick", "orient": "vertical", "size": 12, "thickness": 1, "color": "#ff00ff", "opacity": 0.4, "clip": true},
   "encoding": {
    "x": {"field": "t", "type": "quantitative", "scale": {"domain": [-521, 451], "nice": false, "zero": false},
          "axis": {"orient": "bottom", "values": [-500,-400,-300,-200,-100,0,100,200,300,400], "labelExpr": "datum.value % 200 === 0 ? datum.label : ''", "labelFontSize": 15, "labelPadding": 8, "tickSize": -5, "title": "Time [sec] 0 = 2012/07/11 10:42:53", "titlePadding": 3, "titleX": 290}},
    "y": {"field": "e", "type": "quantitative", "scale": {"domain": [2706, 3550], "nice": false, "zero": false},
          "axis": {"orient": "left", "values": [2750,2800,2850,2900,2950,3000,3050,3100,3150,3200,3250,3300,3350,3400,3450,3500], "labelExpr": "datum.value % 200 === 0 ? datum.label : ''", "tickSize": {"condition": {"test": "datum.value % 200 === 0", "value": -5}, "value": -2.5}, "labelPadding": 7, "title": null, "format": "d"}}}},
  {"mark": {"type": "line", "color": "#ff00ff", "strokeWidth": 1, "clip": true},
   "encoding": {
    "x": {"field": "t", "type": "quantitative", "axis": {"orient": "top", "values": [-500,-400,-300,-200,-100,0,100,200,300,400], "labels": false, "title": null, "tickSize": -5}},
    "y": {"field": "e", "type": "quantitative", "axis": {"orient": "right", "values": [2750,2800,2850,2900,2950,3000,3050,3100,3150,3200,3250,3300,3350,3400,3450,3500], "labels": false, "title": null, "tickSize": {"condition": {"test": "datum.value % 200 === 0", "value": -5}, "value": -2.5}}}}}
 ],
 "resolve": {"axis": {"x": "independent", "y": "independent"}}
}
],
"spacing": 0,
"bounds": "flush",
"resolve": {"scale": {"x": "independent", "y": "independent"}}
}
